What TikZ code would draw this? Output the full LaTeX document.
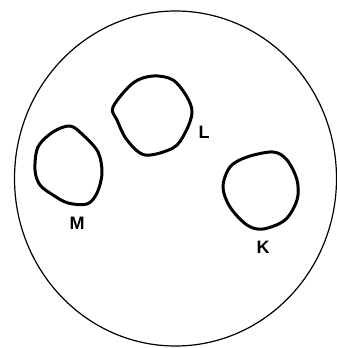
\documentclass[tikz,border=0pt]{standalone}
\usepackage{fontspec}
\setsansfont{Liberation Sans}
\usepackage{tikz}

\begin{document}
\begin{tikzpicture}[
    x=1pt, y=-1pt,
    dish/.style={line width=1.2pt, draw=black},
    blob/.style={line width=3pt, draw=black, line join=round},
    tag/.style={font=\sffamily\bfseries\fontsize{18}{20}\selectfont, inner sep=0pt}
]
\useasboundingbox (0,0) rectangle (337,348);
\draw[dish] (175.5,178.5) ellipse[x radius=161, y radius=167.5];

\draw[blob] plot[smooth cycle, tension=0.55] coordinates {
    (153,76) (133,83) (113,107) (117,120) (127,140) (145,155)
    (173,148) (185,133) (192,113) (187,97) (173,80)};
\draw[blob] plot[smooth cycle, tension=0.55] coordinates {
    (70,126) (53,132) (38,147) (35,170) (40,185) (53,195)
    (68,203) (87,204) (97,193) (102,173) (98,152) (83,135)};
\draw[blob] plot[smooth cycle, tension=0.55] coordinates {
    (273,152) (247,157) (230,167) (223,187) (230,207) (247,225)
    (263,229) (285,220) (297,200) (297,180) (287,160)};

\node[tag] (l) at (204,132) {L};
\node[tag] (m) at (77,223) {M};
\node[tag] (k) at (263,247) {K};
\end{tikzpicture}
\end{document}
